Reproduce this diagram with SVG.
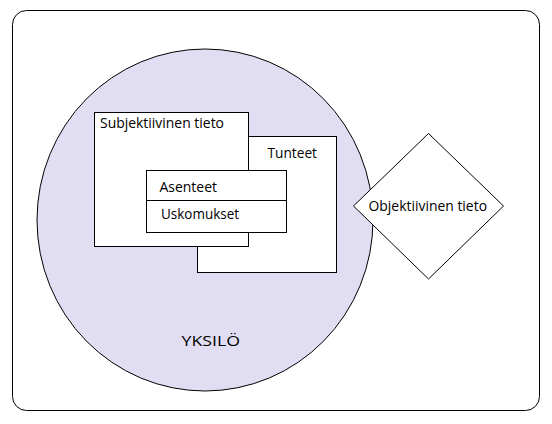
<svg xmlns="http://www.w3.org/2000/svg" width="552" height="424" viewBox="0 0 552 424">
<style>
.ln{stroke:#000;stroke-width:1;}
.box{fill:#fff;stroke:#000;stroke-width:1;}
.t{font-family:"Open Sans","Liberation Sans",sans-serif;font-size:14px;fill:#000;}
</style>
<rect x="0" y="0" width="552" height="424" fill="#fff"/>
<g id="outer">
<rect x="12.5" y="10.5" width="527" height="400" rx="14" ry="14" fill="#fff" class="ln"/>
</g>
<g id="yksilo">
<ellipse cx="205" cy="220" rx="168" ry="171" fill="#E1DEF3" class="ln"/>
<text class="t" x="181.5" y="346" font-size="17" textLength="58.5" lengthAdjust="spacingAndGlyphs">YKSILÖ</text>
</g>
<g id="tunteet">
<rect class="box" x="197.5" y="136.5" width="139" height="136"/>
<text class="t" x="267.5" y="157.5" textLength="49.5" lengthAdjust="spacingAndGlyphs">Tunteet</text>
</g>
<g id="subjektiivinen">
<rect class="box" x="94.5" y="112.5" width="154" height="134"/>
<text class="t" x="100" y="128" textLength="124" lengthAdjust="spacingAndGlyphs">Subjektiivinen tieto</text>
</g>
<g id="asenteet-uskomukset">
<rect class="box" x="146.5" y="170.5" width="140" height="62"/>
<line class="ln" x1="146.5" y1="200.5" x2="286.5" y2="200.5"/>
<text class="t" x="159.5" y="192" textLength="57.5" lengthAdjust="spacingAndGlyphs">Asenteet</text>
<text class="t" x="161" y="218.5" textLength="78" lengthAdjust="spacingAndGlyphs">Uskomukset</text>
</g>
<g id="objektiivinen">
<polygon class="box" points="428.5,133.5 503.5,206 428.5,279 353.5,206"/>
<text class="t" x="368.5" y="210.5" textLength="118.5" lengthAdjust="spacingAndGlyphs">Objektiivinen tieto</text>
</g>
<g id="connectors"></g>
</svg>
